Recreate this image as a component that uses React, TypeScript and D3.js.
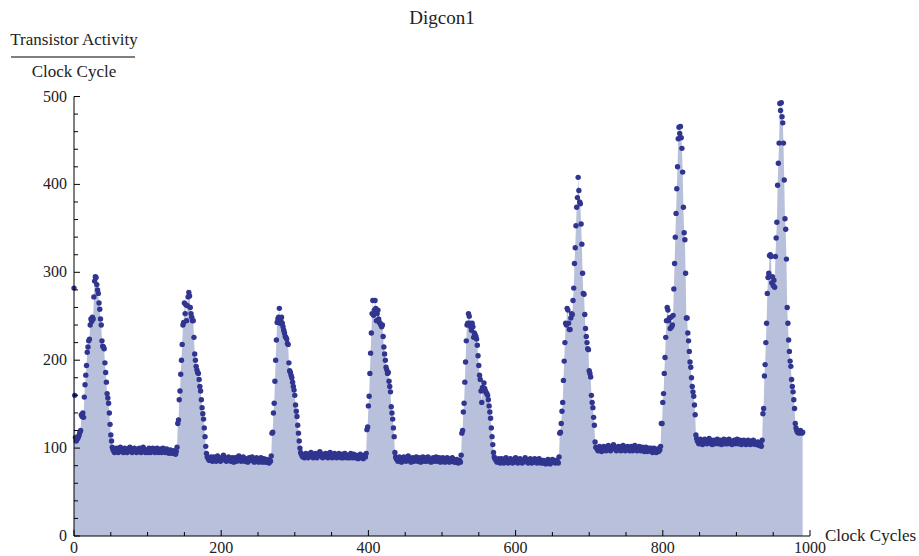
import * as d3 from 'd3';

// transistor activity per clock cycle, one value per cycle
const peak1 = [282, 160, 112, 108, 110, 111, 113, 115, 118, 120,
  138, 136, 140, 135, 158, 172, 183, 194, 209, 215,
  222, 224, 240, 247, 244, 249, 247, 272, 290, 295,
  294, 286, 280, 276, 265, 258, 247, 240, 222, 216,
  215, 213, 197, 186, 175, 162, 157, 151, 140, 127,
  115, 108, 101];
const flat1 = [98, 97, 95, 99, 97, 100, 97, 95, 97, 99,
  101, 99, 96, 98, 95, 97, 100, 98, 97, 95,
  98, 96, 100, 101, 98, 97, 95, 97, 99, 100,
  97, 98, 95, 97, 99, 97, 100, 98, 95, 97,
  99, 101, 99, 96, 95, 98, 97, 95, 98, 100,
  97, 95, 98, 97, 100, 99, 97, 95, 97, 99,
  100, 97, 95, 98, 97, 99, 95, 97, 100, 98,
  97, 95, 97, 99, 95, 97, 94, 96, 98, 95,
  94, 96, 97, 94, 96, 93, 96];
const peak2 = [101, 128, 132, 155, 165, 184, 200, 218, 240, 243,
  265, 253, 263, 245, 262, 272, 277, 273, 260, 253,
  249, 245, 245, 226, 207, 200, 193, 189, 186, 185,
  178, 170, 165, 155, 146, 139, 133, 123, 113, 102,
  94];
const flat2 = [90, 89, 87, 86, 88, 90, 87, 85, 88, 90,
  88, 86, 85, 88, 91, 89, 88, 86, 85, 87,
  88, 90, 92, 90, 88, 86, 85, 88, 87, 90,
  88, 86, 85, 87, 89, 86, 84, 87, 89, 87,
  85, 88, 90, 91, 88, 86, 85, 87, 89, 90,
  87, 85, 88, 87, 85, 84, 87, 89, 86, 87,
  88, 90, 87, 85, 84, 87, 86, 89, 87, 85,
  84, 86, 87, 89, 86, 84, 86, 88, 86, 84,
  86, 87, 84, 86, 83, 86, 85];
const peak3 = [91, 117, 118, 140, 151, 176, 200, 223, 243, 247,
  249, 259, 242, 245, 249, 242, 238, 234, 231, 227,
  226, 224, 219, 218, 197, 188, 186, 183, 180, 175,
  170, 166, 160, 149, 142, 136, 126, 117, 108, 100];
const flat3 = [95, 93, 91, 90, 92, 89, 91, 94, 92, 90,
  89, 92, 91, 94, 95, 92, 90, 89, 91, 93,
  94, 92, 89, 91, 92, 94, 96, 94, 92, 90,
  89, 91, 93, 91, 94, 92, 90, 89, 92, 94,
  95, 92, 90, 89, 91, 93, 94, 92, 90, 89,
  92, 91, 94, 92, 90, 89, 91, 93, 89, 91,
  94, 92, 90, 89, 92, 91, 89, 92, 94, 91,
  89, 91, 93, 91, 89, 92, 91, 89, 88, 91,
  90, 93, 91, 89, 91, 88, 90, 92, 90];
const peak4 = [94, 121, 124, 148, 159, 185, 208, 231, 253, 268,
  251, 257, 268, 259, 245, 253, 257, 247, 243, 242,
  240, 238, 240, 227, 215, 207, 200, 192, 189, 185,
  186, 176, 170, 164, 147, 140, 133, 123, 113, 95,
  90];
const flat4 = [88, 87, 85, 88, 90, 87, 85, 84, 87, 89,
  90, 88, 86, 85, 87, 89, 91, 89, 87, 85,
  84, 87, 89, 87, 85, 88, 87, 90, 88, 85,
  87, 89, 85, 84, 87, 88, 90, 87, 85, 87,
  89, 85, 87, 90, 88, 86, 85, 84, 86, 87,
  89, 87, 85, 88, 90, 87, 85, 87, 89, 85,
  84, 87, 86, 89, 87, 85, 84, 86, 87, 89,
  85, 87, 84, 86, 88, 85, 89, 87, 85, 84,
  86, 84, 87, 86, 83, 85, 86, 84];
const peak5 = [92, 117, 120, 141, 151, 175, 198, 222, 240, 242,
  253, 250, 242, 238, 234, 242, 238, 226, 231, 229,
  227, 224, 217, 205, 194, 183, 178, 165, 152, 169,
  166, 174, 168, 165, 163, 162, 160, 155, 148, 141,
  134, 123, 113, 104, 95, 90];
const flat5 = [88, 87, 85, 84, 86, 88, 85, 83, 86, 88,
  86, 84, 83, 86, 88, 89, 86, 84, 83, 85,
  86, 88, 86, 84, 83, 86, 85, 88, 89, 86,
  84, 83, 85, 86, 88, 86, 84, 83, 86, 85,
  86, 89, 87, 86, 84, 83, 85, 86, 88, 85,
  83, 85, 86, 84, 88, 86, 85, 83, 85, 86,
  88, 85, 83, 86, 85, 83, 86, 85, 83, 82,
  85, 84, 87, 85, 83, 82, 85, 84, 87, 85,
  84, 86, 83, 84, 86, 84, 83];
const peak6 = [90, 117, 118, 128, 142, 152, 177, 199, 220, 242,
  240, 259, 257, 242, 235, 235, 248, 253, 252, 268,
  282, 310, 328, 353, 374, 385, 408, 393, 380, 378,
  355, 332, 299, 276, 275, 252, 236, 227, 220, 213,
  212, 188, 185, 181, 160, 152, 146, 135, 126, 107,
  101];
const flat6 = [100, 99, 97, 100, 102, 99, 97, 96, 99, 101,
  102, 100, 98, 97, 99, 100, 103, 101, 99, 97,
  99, 101, 102, 104, 102, 100, 98, 97, 99, 101,
  102, 100, 98, 97, 100, 102, 103, 100, 98, 97,
  99, 101, 102, 100, 98, 97, 100, 102, 99, 97,
  99, 102, 103, 100, 98, 97, 99, 101, 102, 99,
  97, 99, 101, 99, 97, 96, 99, 101, 98, 96,
  98, 100, 97, 98, 100, 97, 95, 98, 100, 97,
  98, 95, 97, 99, 96, 97, 98];
const peak7 = [102, 128, 128, 152, 162, 185, 203, 226, 245, 260,
  257, 245, 248, 236, 249, 238, 240, 251, 281, 310,
  340, 367, 395, 420, 452, 465, 458, 466, 453, 441,
  414, 374, 345, 337, 299, 248, 248, 231, 222, 210,
  198, 192, 180, 170, 164, 159, 149, 138, 115, 111];
const flat7 = [108, 107, 105, 108, 110, 107, 105, 104, 107, 109,
  110, 108, 106, 105, 107, 109, 111, 109, 107, 105,
  104, 107, 109, 107, 105, 108, 107, 110, 108, 105,
  107, 109, 105, 104, 107, 108, 110, 107, 105, 107,
  109, 105, 107, 110, 108, 106, 105, 104, 106, 107,
  109, 107, 105, 108, 110, 107, 105, 107, 109, 105,
  104, 107, 106, 109, 107, 105, 104, 106, 107, 109,
  105, 107, 104, 106, 108, 105, 109, 107, 105, 104,
  106, 104, 107, 106, 103, 105, 104];
const peak8 = [102, 109, 139, 145, 182, 195, 220, 242, 276, 294,
  299, 319, 320, 318, 288, 295, 285, 291, 283, 318,
  339, 357, 399, 424, 447, 492, 484, 493, 477, 470,
  447, 405, 361, 349, 315, 260, 242, 223, 210, 199,
  193, 178, 170, 164, 155, 145, 128, 123, 120, 118,
  119, 117, 118, 120, 118, 117, 118];

const activity = [
  ...peak1, ...flat1, ...peak2, ...flat2, ...peak3, ...flat3, ...peak4, ...flat4,
  ...peak5, ...flat5, ...peak6, ...flat6, ...peak7, ...flat7, ...peak8,
];

const xTicks = [0, 200, 400, 600, 800, 1000];
const yTicks = [0, 100, 200, 300, 400, 500];

const W = 919;
const H = 556;
const FONT = '"Liberation Serif", "Times New Roman", serif';

export default function App() {
  const x = d3.scaleLinear().domain([0, 1000]).range([74, 810]);
  const y = d3.scaleLinear().domain([0, 500]).range([536, 96.5]);

  const area = d3.area<number>()
    .x((_, i) => x(i))
    .y0(y(0))
    .y1(d => y(d));

  const xMinor = d3.range(0, 1001, 50).filter(v => v % 200 !== 0);
  const yMinor = d3.range(0, 501, 20).filter(v => v % 100 !== 0);

  return (
    <svg width={W} height={H} style={{ position: 'absolute', left: 0, top: 0 }} fontFamily={FONT}>
      <rect width={W} height={H} fill="#fff" />

      {/* filling down to the axis */}
      <path d={area(activity) || ''} fill="#b9c0dc" />

      {/* points */}
      <g fill="#30358f">
        {activity.map((v, i) => (
          <circle key={i} cx={x(i)} cy={y(v)} r={2.7} />
        ))}
      </g>

      {/* axes */}
      <g stroke="#000" strokeWidth={1} fill="none">
        <line x1={x(0)} x2={x(1000)} y1={y(0)} y2={y(0)} />
        <line x1={x(0)} x2={x(0)} y1={y(0)} y2={y(500)} />
        {xTicks.map(t => (
          <line key={'xt' + t} x1={x(t)} x2={x(t)} y1={y(0)} y2={y(0) - 6} />
        ))}
        {xMinor.map(t => (
          <line key={'xm' + t} x1={x(t)} x2={x(t)} y1={y(0)} y2={y(0) - 4} />
        ))}
        {yTicks.map(t => (
          <line key={'yt' + t} x1={x(0)} x2={x(0) + 6} y1={y(t)} y2={y(t)} />
        ))}
        {yMinor.map(t => (
          <line key={'ym' + t} x1={x(0)} x2={x(0) + 4} y1={y(t)} y2={y(t)} />
        ))}
      </g>

      {/* tick labels */}
      <g fontSize={16} fill="#222">
        {xTicks.map(t => (
          <text key={'xl' + t} x={x(t)} y={y(0) + 17} textAnchor="middle">{t}</text>
        ))}
        {yTicks.map(t => (
          <text key={'yl' + t} x={x(0) - 7} y={y(t) + 5} textAnchor="end">{t}</text>
        ))}
      </g>

      {/* labels */}
      <text x={442} y={24} fontSize={19} textAnchor="middle" fill="#222">Digcon1</text>
      <g fontSize={17} fill="#222">
        <text x={74} y={45} textAnchor="middle">Transistor Activity</text>
        <line x1={11} x2={135} y1={57} y2={57} stroke="#000" strokeWidth={1.2} />
        <text x={74} y={77} textAnchor="middle">Clock Cycle</text>
        <text x={825} y={541}>Clock Cycles</text>
      </g>
    </svg>
  );
}
